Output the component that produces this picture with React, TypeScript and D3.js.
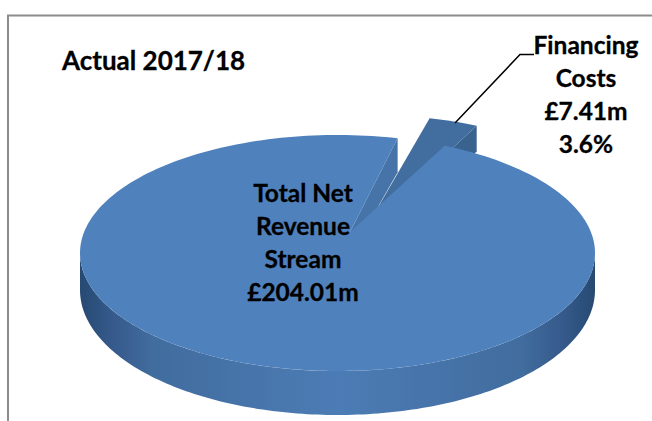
import React from "react";
import * as d3 from "d3";

const categories = ["Total Net Revenue Stream", "Financing Costs"];
const values = [204.01, 7.41];
const mainLabel = ["Total Net", "Revenue", "Stream", "£204.01m"];
const smallLabel = ["Financing", "Costs", "£7.41m", "3.6%"];
const title = "Actual 2017/18";

const W = 652, H = 421;
const cx = 337.5, cy = 253, rx = 257.5, ry = 118;
const bottomCy = 290, bottomRy = 125;
const apex: [number, number] = [350, 232];
const smallOuterShift: [number, number] = [32, -20];
const smallApexShift: [number, number] = [16, -4];
const rotation = (13.5 * Math.PI) / 180;
const foreshorten = 0.88;

const pt = (t: number, cyy = cy, ryy = ry): [number, number] => [
  cx + rx * Math.sin(t),
  cyy - ryy * Math.cos(t),
];

const font = "Lato, 'Noto Sans', sans-serif";

export default function App() {
  const arcs = d3
    .pie<number>()
    .sort(null)
    .startAngle(0)
    .endAngle(2 * Math.PI)(values.slice().reverse());
  const smallSweep = (arcs[0].endAngle - arcs[0].startAngle) * foreshorten;
  const a0 = rotation;
  const a1 = rotation + smallSweep;

  const line = d3.line();
  const sample = (from: number, to: number, n = 120) =>
    d3.range(n + 1).map((i) => from + ((to - from) * i) / n);

  const mainTop =
    line([apex, ...sample(a1, a0 + 2 * Math.PI, 240).map((t) => pt(t))]) + "Z";

  const front = sample(Math.PI / 2, (3 * Math.PI) / 2, 160);
  const side =
    line([
      ...front.map((t) => pt(t)),
      ...front.slice().reverse().map((t) => pt(t, bottomCy, bottomRy)),
    ]) + "Z";

  const sApex: [number, number] = [apex[0] + smallApexShift[0], apex[1] + smallApexShift[1]];
  const p0 = pt(a0);
  const cutDepth = 34;
  const cutFace = line([p0, [p0[0], p0[1] + cutDepth], sApex, apex]) + "Z";

  const shifted = (p: [number, number]): [number, number] => [
    p[0] + smallOuterShift[0],
    p[1] + smallOuterShift[1],
  ];
  const sArc = sample(a0, a1, 12).map((t) => shifted(pt(t)));
  const s1 = sArc[sArc.length - 1];
  const smallTop = line([sApex, ...sArc]) + "Z";
  const smallFace = line([s1, [s1[0], s1[1] + 26], sApex]) + "Z";

  const leader = line([[455, 123], [520, 54.5], [534, 54.5]]) as string;

  const textProps = {
    fontFamily: font,
    fontWeight: 700,
    fontSize: 24.5,
    fill: "#000",
    stroke: "#000",
    strokeWidth: 0.3,
    textAnchor: "middle" as const,
  };

  return (
    <svg
      width={W}
      height={H}
      viewBox={`0 0 ${W} ${H}`}
      style={{ position: "absolute", left: 0, top: 0 }}
    >
      <defs>
        <linearGradient id="side" gradientUnits="userSpaceOnUse" x1={cx - rx} x2={cx + rx} y1={0} y2={0}>
          <stop offset="0" stopColor="#264a72" />
          <stop offset="0.06" stopColor="#35598a" />
          <stop offset="0.14" stopColor="#416c9e" />
          <stop offset="0.5" stopColor="#4c7cb5" />
          <stop offset="0.86" stopColor="#416c9e" />
          <stop offset="0.94" stopColor="#35598a" />
          <stop offset="1" stopColor="#264a72" />
        </linearGradient>
      </defs>
      <rect width={W} height={H} fill="#fff" />
      <path d={`M8 421V15.5H${W}`} fill="none" stroke="#8c8c8c" strokeWidth={2} />

      <path d={side} fill="url(#side)" />
      <path d={cutFace} fill="#4674a8" />
      <path d={smallFace} fill="#39628f" />
      <path d={smallTop} fill="#426d9f" />
      <path d={mainTop} fill="#4f81bd" />
      <path d={leader} fill="none" stroke="#000" strokeWidth={1.5} />

      <text x={62} y={70} {...textProps} fontSize={26} textAnchor="start">
        {title}
      </text>
      <g aria-label={categories[0]}>
        {mainLabel.map((s, i) => (
          <text key={s} x={303} y={202 + i * 33} {...textProps}>
            {s}
          </text>
        ))}
      </g>
      <g aria-label={categories[1]}>
        {smallLabel.map((s, i) => (
          <text key={s} x={586} y={54 + i * 33} {...textProps}>
            {s}
          </text>
        ))}
      </g>
    </svg>
  );
}
